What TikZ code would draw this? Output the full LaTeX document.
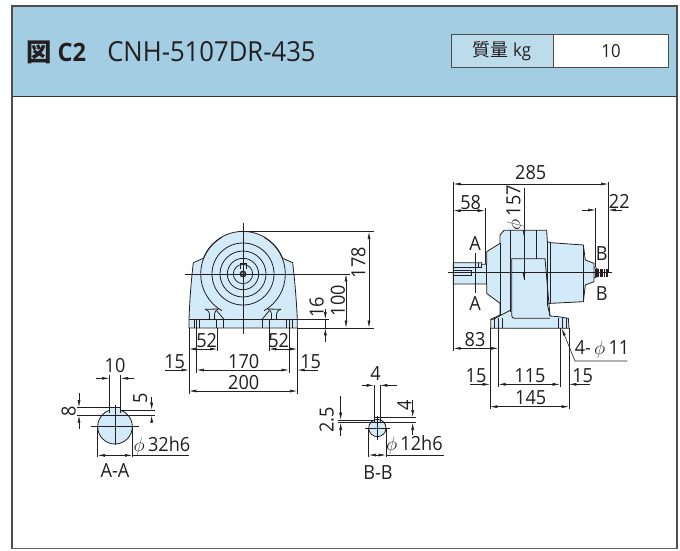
\documentclass[tikz,border=0pt]{standalone}
\usepackage{fontspec}
\setmainfont[FakeStretch=0.93]{Open Sans}
\newfontfamily\cjk{Noto Sans CJK JP}
\usetikzlibrary{arrows.meta}
\definecolor{hdr}{HTML}{A2CDE3}
\definecolor{lbl}{HTML}{BDDCEB}
\definecolor{body}{HTML}{D3EBF8}
\definecolor{ink}{HTML}{231F20}
\tikzset{
 thin line/.style={line width=0.45pt,draw=ink},
 outline/.style={line width=0.6pt,draw=ink},
 bodyfill/.style={outline,fill=body},
 dimline/.style={line width=0.45pt,draw=ink,{Latex[length=5.5pt,width=2.2pt]}-{Latex[length=5.5pt,width=2.2pt]}},
 arrowend/.style={line width=0.45pt,draw=ink,-{Latex[length=5.5pt,width=2.2pt]}},
 dimtext/.style={font=\fontsize{14.6}{15}\selectfont,text=ink,inner sep=0pt},
 rotdim/.style={dimtext,rotate=90},
}
\begin{document}
\begin{tikzpicture}[x=0.75pt,y=-0.75pt]
\useasboundingbox (0,0) rectangle (680,550);
% frame and header
\fill[white] (0,0) rectangle (680,550);
\path[fill=hdr] (12,6) rectangle (677,96.5);
\draw[line width=0.8pt,draw=ink!80] (12,549) -- (12,6) -- (677,6) -- (677,549);
\draw[line width=0.8pt,draw=ink!90] (12,96.5) -- (677,96.5);
\draw[line width=0.5pt,draw=ink!70] (12,548.5) -- (677,548.5);
\node[anchor=west,inner sep=0pt,text=ink,font=\fontsize{19}{20}\selectfont\bfseries] (fig) at (26,52) {{\cjk 図} C2};
\node[anchor=west,inner sep=0pt,text=ink,font=\fontsize{20.7}{22}\selectfont] (model) at (107,52) {CNH-5107DR-435};
\path[fill=lbl,draw=ink!80,line width=0.6pt] (451.7,34.7) rectangle (553.3,67.3);
\path[fill=white,draw=ink!80,line width=0.6pt] (553.3,34.7) rectangle (668,67.3);
\node[inner sep=0pt,text=ink,font=\fontsize{13.5}{14}\selectfont] (mass) at (502,51.5) {{\cjk 質量} kg};
\node[inner sep=0pt,text=ink,font=\fontsize{13.5}{14}\selectfont] (massv) at (611,51.5) {10};

% ===== front view
\begin{scope}[shift={(170,210)},x=0.25pt,y=-0.25pt]
\path[bodyfill] (57,354) -- (57,328) .. controls (60,250) and (65,200) .. (70,158) -- (100,145)
  arc[start angle=-158.4,end angle=-21.6,radius=128]
  -- (368,158) .. controls (373,200) and (378,250) .. (382,328) -- (382,354) -- cycle;
\draw[outline] (92,192) arc[start angle=180,end angle=120,radius=127];
\draw[outline] (346,192) arc[start angle=0,end angle=60,radius=127];
\draw[outline] (92,192) arc[start angle=180,end angle=240,radius=127];
\draw[outline] (346,192) arc[start angle=0,end angle=-60,radius=127];
\foreach \r in {93,69,47,29}{\draw[outline] (219,192) circle[radius=\r];}
\draw[outline,fill=ink!70] (219,192) circle[radius=9];
\fill[white] (219,192) circle[radius=3];
\draw[outline] (210,178) -- (210,160) -- (228,160) -- (228,178);
\draw[outline] (57,328) -- (382,328);
% feet
\foreach \q in {72,80,88}{\draw[thin line] (\q,328) -- (\q,354);\draw[thin line] (438-\q,328) -- (438-\q,354);}
\foreach \q in {140,160}{\draw[outline] (\q,328) -- (\q,354);\draw[outline] (438-\q,328) -- (438-\q,354);}
\draw[outline] (105,298) .. controls (118,300) and (120,312) .. (118,328);
\draw[outline] (145,297) .. controls (134,300) and (132,312) .. (134,328);
\draw[outline] (105,298) -- (145,297);
\draw[outline] (140,302) -- (162,328);
\draw[outline] (333,298) .. controls (320,300) and (318,312) .. (320,328);
\draw[outline] (293,297) .. controls (304,300) and (306,312) .. (304,328);
\draw[outline] (333,298) -- (293,297);
\draw[outline] (298,302) -- (276,328);
% centre lines and extension lines
\draw[thin line] (219,40) -- (219,372);
\draw[thin line] (45,192) -- (540,192);
\draw[thin line] (219,65) -- (612,65);
\draw[thin line] (382,354) -- (612,354);
\draw[thin line] (382,328) -- (478,328);
\draw[thin line] (57,354) -- (57,552);
\draw[thin line] (382,354) -- (382,552);
\draw[thin line] (80,354) -- (80,488);
\draw[thin line] (357,354) -- (357,488);
\draw[thin line] (142,354) -- (142,424);
\draw[thin line] (297,354) -- (297,424);
% dimensions
\draw[dimline] (57,417) -- (142,417);
\draw[dimline] (297,417) -- (382,417);
\draw[dimline] (80,480) -- (357,480);
\draw[arrowend] (-15,480) -- (57,480);
\draw[arrowend] (445,480) -- (382,480);
\draw[dimline] (57,543) -- (382,543);
\draw[dimline] (528,192) -- (528,354);
\draw[dimline] (597,65) -- (597,354);
\draw[arrowend] (466,298) -- (466,328);
\draw[arrowend] (466,395) -- (466,354);
\draw[thin line] (466,328) -- (466,354);
\node[dimtext] (d52a) at (110,391) {52};
\node[dimtext] (d52b) at (326,391) {52};
\node[dimtext] (d170) at (221,454) {170};
\node[dimtext] (d15a) at (14,454) {15};
\node[dimtext] (d15b) at (422,454) {15};
\node[dimtext] (d200) at (221,517) {200};
\node[rotdim] (d16) at (440,291) {16};
\node[rotdim] (d100) at (504,272) {100};
\node[rotdim] (d178) at (565,158) {178};
\end{scope}

% ===== side view
\begin{scope}[shift={(440,160)},x=0.25pt,y=-0.25pt]
\path[bodyfill] (40,308) -- (125,308) -- (125,313) -- (140,313) -- (140,275) -- (180,250) -- (180,225) -- (192,211) -- (320,211) -- (322,245)
 -- (332,248) -- (430,255) -- (436,300) -- (462,310) -- (462,365) -- (436,375) -- (430,425) -- (332,430) -- (322,432)
 -- (330,468) -- (355,470) -- (385,475) -- (387,505) -- (152,505) -- (152,478) -- (180,465) -- (180,430) -- (140,400) -- (140,372) -- (40,372) -- cycle;
\draw[outline] (180,250) -- (180,465);
\draw[outline] (212,211) -- (212,455);
\draw[outline] (290,211) -- (290,296);
\draw[outline] (322,245) -- (322,432);
\draw[outline] (332,248) -- (332,430);
\draw[outline] (430,255) -- (430,425);
\draw[outline] (215,296) -- (315,296) -- (330,468);
\draw[outline] (215,296) -- (215,465) .. controls (215,472) and (218,475) .. (224,475) -- (330,475);
\draw[outline] (212,450) -- (160,478) -- (152,478);
\draw[outline] (140,313) -- (140,372);
\draw[thin line] (40,322) -- (115,322) -- (115,310);
\draw[thin line] (125,313) -- (125,322) -- (115,322);
\draw[thin line] (40,332) -- (95,332) -- (95,347) -- (40,347);
\foreach \q in {163,175,187,355,367,378}{\draw[thin line] (\q,475) -- (\q,505);}
% motor shaft end
\fill[ink] (464,326) rectangle (503,350);
\foreach \q in {478,488,496}{\draw[white,line width=0.15pt] (\q,326) -- (\q,350);}
\draw[outline] (462,322) -- (472,326) -- (472,350) -- (462,354);
% centre line etc
\draw[thin line] (25,338) -- (515,338);
\draw[thin line] (105,280) -- (105,400);
\draw[thin line] (252,85) -- (252,360);
\draw[arrowend] (252,170) -- (252,232);
\draw[arrowend] (252,290) -- (252,360);
% extension lines
\draw[thin line] (40,65) -- (40,572);
\draw[thin line] (505,65) -- (505,340);
\draw[thin line] (135,143) -- (135,312);
\draw[thin line] (467,143) -- (467,322);
\draw[thin line] (175,505) -- (175,682);
\draw[thin line] (360,505) -- (360,682);
\draw[thin line] (150,505) -- (150,746);
\draw[thin line] (387,505) -- (387,746);
% dimensions
\draw[dimline] (40,72) -- (505,72);
\draw[dimline] (40,152) -- (135,152);
\draw[arrowend] (425,150) -- (467,150);
\draw[arrowend] (545,150) -- (505,150);
\draw[dimline] (40,565) -- (175,565);
\draw[arrowend] (90,673) -- (150,673);
\draw[dimline] (175,673) -- (360,673);
\draw[arrowend] (450,673) -- (387,673);
\draw[dimline] (150,740) -- (387,740);
\draw[thin line,{Latex[length=5.5pt,width=2.2pt]}-] (365,505) -- (405,603) -- (562,603);
\node[dimtext] (s285) at (272,38) {285};
\node[dimtext] (s58) at (92,127) {58};
\node[dimtext] (s22) at (538,125) {22};
\node[rotdim] (s157) at (226,143) {$\phi$\,157};
\node[dimtext] (sAa) at (105,251) {A};
\node[dimtext] (sAb) at (105,432) {A};
\node[dimtext] (sBa) at (485,280) {B};
\node[dimtext] (sBb) at (485,402) {B};
\node[dimtext] (s83) at (105,539) {83};
\node[dimtext] (s15a) at (108,648) {15};
\node[dimtext] (s115) at (270,648) {115};
\node[dimtext] (s15b) at (428,648) {15};
\node[dimtext] (s145) at (272,714) {145};
\node[dimtext] (s4d) at (486,568) {4-\,$\phi$\,11};
\end{scope}

% ===== section A-A
\begin{scope}[shift={(60,350)},x=0.25pt,y=-0.25pt]
\path[bodyfill] (165,230) circle[radius=52];
\path[bodyfill] (148,190) -- (148,172) -- (182,172) -- (182,190);
\draw[thin line] (165,165) -- (165,285);
\draw[thin line] (92,230) -- (238,230);
\draw[thin line] (148,75) -- (148,172);
\draw[thin line] (182,75) -- (182,172);
\draw[thin line] (50,172) -- (148,172);
\draw[thin line] (50,196) -- (285,196);
\draw[thin line] (182,180) -- (285,180);
\draw[thin line] (113,230) -- (113,322);
\draw[thin line] (217,230) -- (217,322);
\draw[arrowend] (108,85) -- (148,85);
\draw[arrowend] (222,85) -- (182,85);
\draw[arrowend] (57,130) -- (57,172);
\draw[arrowend] (57,236) -- (57,196);
\draw[arrowend] (275,140) -- (275,180);
\draw[arrowend] (275,215) -- (275,196);
\draw[dimline] (113,316) -- (217,316);
\draw[thin line] (217,316) -- (387,316);
\node[dimtext] (a10) at (165,46) {10};
\node[rotdim] (a8) at (26,185) {8};
\node[rotdim] (a5) at (241,146) {5};
\node[dimtext] (a32) at (306,288) {$\phi$\,32h6};
\node[dimtext] (aAA) at (165,362) {A-A};
\end{scope}

% ===== section B-B
\begin{scope}[shift={(310,360)},x=0.25pt,y=-0.25pt]
\path[bodyfill] (202,204) circle[radius=26];
\draw[outline] (192,188) -- (192,172) -- (210,172) -- (210,188);
\draw[thin line] (202,168) -- (202,240);
\draw[thin line] (165,204) -- (240,204);
\draw[line width=0.6pt,draw=ink] (192,75) -- (192,172);
\draw[line width=0.6pt,draw=ink] (210,75) -- (210,172);
\draw[thin line] (85,180) -- (192,180);
\draw[thin line] (85,188) -- (318,188);
\draw[thin line] (210,172) -- (318,172);
\draw[thin line] (176,204) -- (176,290);
\draw[thin line] (228,204) -- (228,290);
\draw[arrowend] (155,76) -- (192,76);
\draw[arrowend] (262,76) -- (210,76);
\draw[arrowend] (92,108) -- (92,180);
\draw[arrowend] (92,228) -- (92,188);
\draw[arrowend] (308,120) -- (308,172);
\draw[arrowend] (308,226) -- (308,188);
\draw[dimline] (176,285) -- (228,285);
\draw[thin line] (228,285) -- (403,285);
\node[dimtext] (b4a) at (197,42) {4};
\node[rotdim] (b25) at (50,180) {2.5};
\node[rotdim] (b4b) at (283,137) {4};
\node[dimtext] (b12) at (313,255) {$\phi$\,12h6};
\node[dimtext] (bBB) at (204,337) {B-B};
\end{scope}
\end{tikzpicture}
\end{document}
